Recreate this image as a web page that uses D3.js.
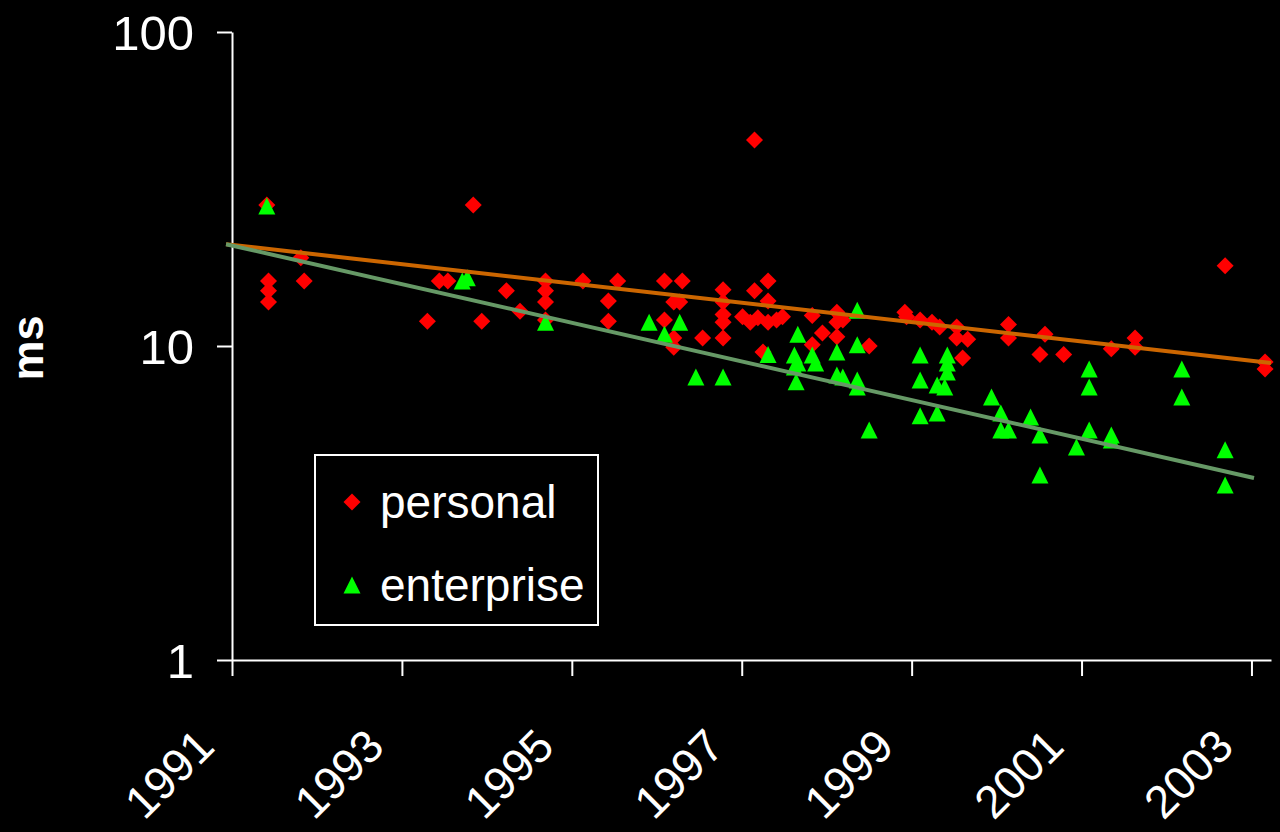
<!DOCTYPE html>
<html>
<head>
<meta charset="utf-8">
<script src="https://cdn.jsdelivr.net/npm/d3@7"></script>
<style>
	html, body { margin: 0; padding: 0; background: #000; }
	svg { display: block; }
	text { font-family: "Liberation Sans", Arial, sans-serif; fill: #fff; }
</style>
</head>
<body>
<div id="chart"></div>
<script>
'use strict';

// values: [year, ms]
var personal = [
	[1991.41, 28.1], [1991.43, 16.1], [1991.43, 15.0], [1991.43, 13.8], [1991.81, 19.1],
	[1991.85, 16.1], [1993.30, 12.0], [1993.44, 16.1], [1993.54, 16.1], [1993.84, 28.1],
	[1993.94, 12.0], [1994.23, 15.0], [1994.39, 12.9], [1994.69, 16.1], [1994.69, 15.0],
	[1994.69, 13.8], [1994.69, 12.1], [1995.13, 16.1], [1995.43, 13.9], [1995.43, 12.0],
	[1995.54, 16.1], [1996.09, 16.1], [1996.30, 16.1], [1996.20, 13.8], [1996.27, 13.8],
	[1996.09, 12.1], [1996.20, 10.6], [1996.20, 9.9], [1996.54, 10.6], [1996.78, 15.1],
	[1996.78, 13.8], [1996.78, 12.6], [1996.78, 11.9], [1996.78, 10.6], [1997.15, 45.3],
	[1997.15, 15.0], [1997.31, 16.1], [1997.31, 13.9], [1997.01, 12.4], [1997.10, 11.9],
	[1997.19, 12.3], [1997.31, 11.9], [1997.41, 12.1], [1997.48, 12.4], [1997.25, 9.57],
	[1997.83, 12.5], [1998.12, 12.8], [1998.12, 11.9], [1998.19, 12.1], [1997.95, 11.0],
	[1998.12, 10.7], [1997.83, 10.1], [1998.50, 10.0], [1998.92, 12.8], [1998.94, 12.4],
	[1999.10, 12.1], [1999.24, 11.9], [1999.33, 11.5], [1999.53, 11.5], [1999.53, 10.6],
	[1999.66, 10.5], [1999.60, 9.16], [2000.14, 11.7], [2000.14, 10.6], [2000.51, 9.4],
	[2000.79, 9.4], [2000.57, 10.9], [2001.35, 9.8], [2001.63, 10.6], [2001.63, 9.9],
	[2002.69, 18.0], [2003.16, 8.9], [2003.16, 8.45]
];

var enterprise = [
	[1991.41, 27.9], [1993.71, 16.1], [1993.77, 16.5], [1994.69, 11.9], [1995.91, 11.9],
	[1996.27, 11.9], [1996.09, 10.9], [1996.46, 7.97], [1996.78, 7.97], [1997.31, 9.4],
	[1997.66, 10.9], [1997.62, 9.36], [1997.62, 8.57], [1997.64, 7.7], [1997.83, 9.36],
	[1997.87, 8.83], [1997.66, 8.83], [1998.12, 9.57], [1998.36, 13.0], [1998.36, 10.1],
	[1998.12, 8.09], [1998.19, 7.97], [1998.36, 7.79], [1998.36, 7.40], [1998.50, 5.40],
	[1999.10, 9.36], [1999.10, 7.79], [1999.10, 6.0], [1999.42, 9.36], [1999.42, 8.83],
	[1999.42, 8.27], [1999.30, 7.51], [1999.39, 7.40], [1999.30, 6.12], [1999.94, 6.88],
	[2000.05, 6.12], [2000.05, 5.40], [2000.14, 5.40], [2000.40, 5.94], [2000.51, 5.21],
	[2000.51, 3.88], [2000.94, 4.77], [2001.09, 8.45], [2001.09, 7.40], [2001.09, 5.40],
	[2001.35, 5.21], [2001.35, 5.02], [2002.18, 8.45], [2002.18, 6.88], [2002.69, 4.67],
	[2002.69, 3.61]
];

// trendline end points
var trendPersonal = [[1990.93, 21.1], [2003.23, 8.83]];
var trendEnterprise = [[1990.93, 21.1], [2003.03, 3.80]];

var xTicks = [1991, 1993, 1995, 1997, 1999, 2001, 2003];
var yTicks = [1, 10, 100];
var seriesNames = ['personal', 'enterprise'];

var W = 1280, H = 832;

var svg = d3.select('#chart').append('svg')
	.attr('width', W)
	.attr('height', H);

svg.append('rect')
	.attr('width', W)
	.attr('height', H)
	.style('fill', '#000');

var x = d3.scaleLinear().domain([1991, 2003.23]).range([232, 1271]);
var y = d3.scaleLog().domain([1, 100]).range([660, 32]);

var diamond = 'M0,-8.5L8.5,0L0,8.5L-8.5,0Z';
var triangle = 'M0,-8.5L8.5,8.5L-8.5,8.5Z';

// axes
var yAxis = svg.append('g')
	.attr('transform', 'translate(232,0)')
	.call(d3.axisLeft(y).tickValues(yTicks).tickSize(15).tickSizeOuter(0).tickFormat(d3.format('d')));

var xAxis = svg.append('g')
	.attr('transform', 'translate(0,660)')
	.call(d3.axisBottom(x).tickValues(xTicks).tickSize(16).tickSizeOuter(0).tickFormat(d3.format('d')));

[yAxis, xAxis].forEach(function(g) {
	g.select('.domain').style('stroke', '#fff').style('stroke-width', 2);
	g.selectAll('.tick line').style('stroke', '#fff').style('stroke-width', 2);
	g.selectAll('.tick text')
		.style('fill', '#fff')
		.style('font-family', '"Liberation Sans", Arial, sans-serif');
});

yAxis.selectAll('.tick text')
	.attr('x', -38)
	.attr('dy', '0.36em')
	.style('font-size', '49px');

xAxis.selectAll('.tick text')
	.attr('y', 0)
	.attr('dy', 0)
	.attr('text-anchor', 'end')
	.attr('transform', 'translate(-16,89) rotate(-45)')
	.style('font-size', '46px');

svg.append('text')
	.attr('transform', 'translate(43,348) rotate(-90)')
	.attr('text-anchor', 'middle')
	.style('font-size', '45px')
	.style('font-weight', 'bold')
	.text('ms');

// points
svg.append('g').selectAll('path')
	.data(personal)
	.enter().append('path')
	.attr('d', diamond)
	.attr('transform', function(d) { return 'translate(' + x(d[0]) + ',' + y(d[1]) + ')'; })
	.style('fill', '#ff0000');

svg.append('g').selectAll('path')
	.data(enterprise)
	.enter().append('path')
	.attr('d', triangle)
	.attr('transform', function(d) { return 'translate(' + x(d[0]) + ',' + y(d[1]) + ')'; })
	.style('fill', '#00ff00');

// trendlines
var line = d3.line()
	.x(function(d) { return x(d[0]); })
	.y(function(d) { return y(d[1]); });

svg.append('path')
	.datum(trendPersonal)
	.attr('d', line)
	.style('fill', 'none')
	.style('stroke', '#cc6600')
	.style('stroke-width', 4);

svg.append('path')
	.datum(trendEnterprise)
	.attr('d', line)
	.style('fill', 'none')
	.style('stroke', '#669966')
	.style('stroke-width', 4);

// legend
var legend = svg.append('g');

legend.append('rect')
	.attr('x', 315)
	.attr('y', 455)
	.attr('width', 283)
	.attr('height', 170)
	.style('fill', '#000')
	.style('stroke', '#fff')
	.style('stroke-width', 2);

var legendRows = legend.selectAll('g.row')
	.data(seriesNames)
	.enter().append('g')
	.attr('class', 'row')
	.attr('transform', function(d, i) { return 'translate(352,' + (502 + i * 83) + ')'; });

legendRows.append('path')
	.attr('d', function(d, i) { return i === 0 ? diamond : triangle; })
	.style('fill', function(d, i) { return i === 0 ? '#ff0000' : '#00ff00'; });

legendRows.append('text')
	.attr('x', 28)
	.attr('y', 16)
	.style('font-size', '46px')
	.text(function(d) { return d; });
</script>
</body>
</html>
